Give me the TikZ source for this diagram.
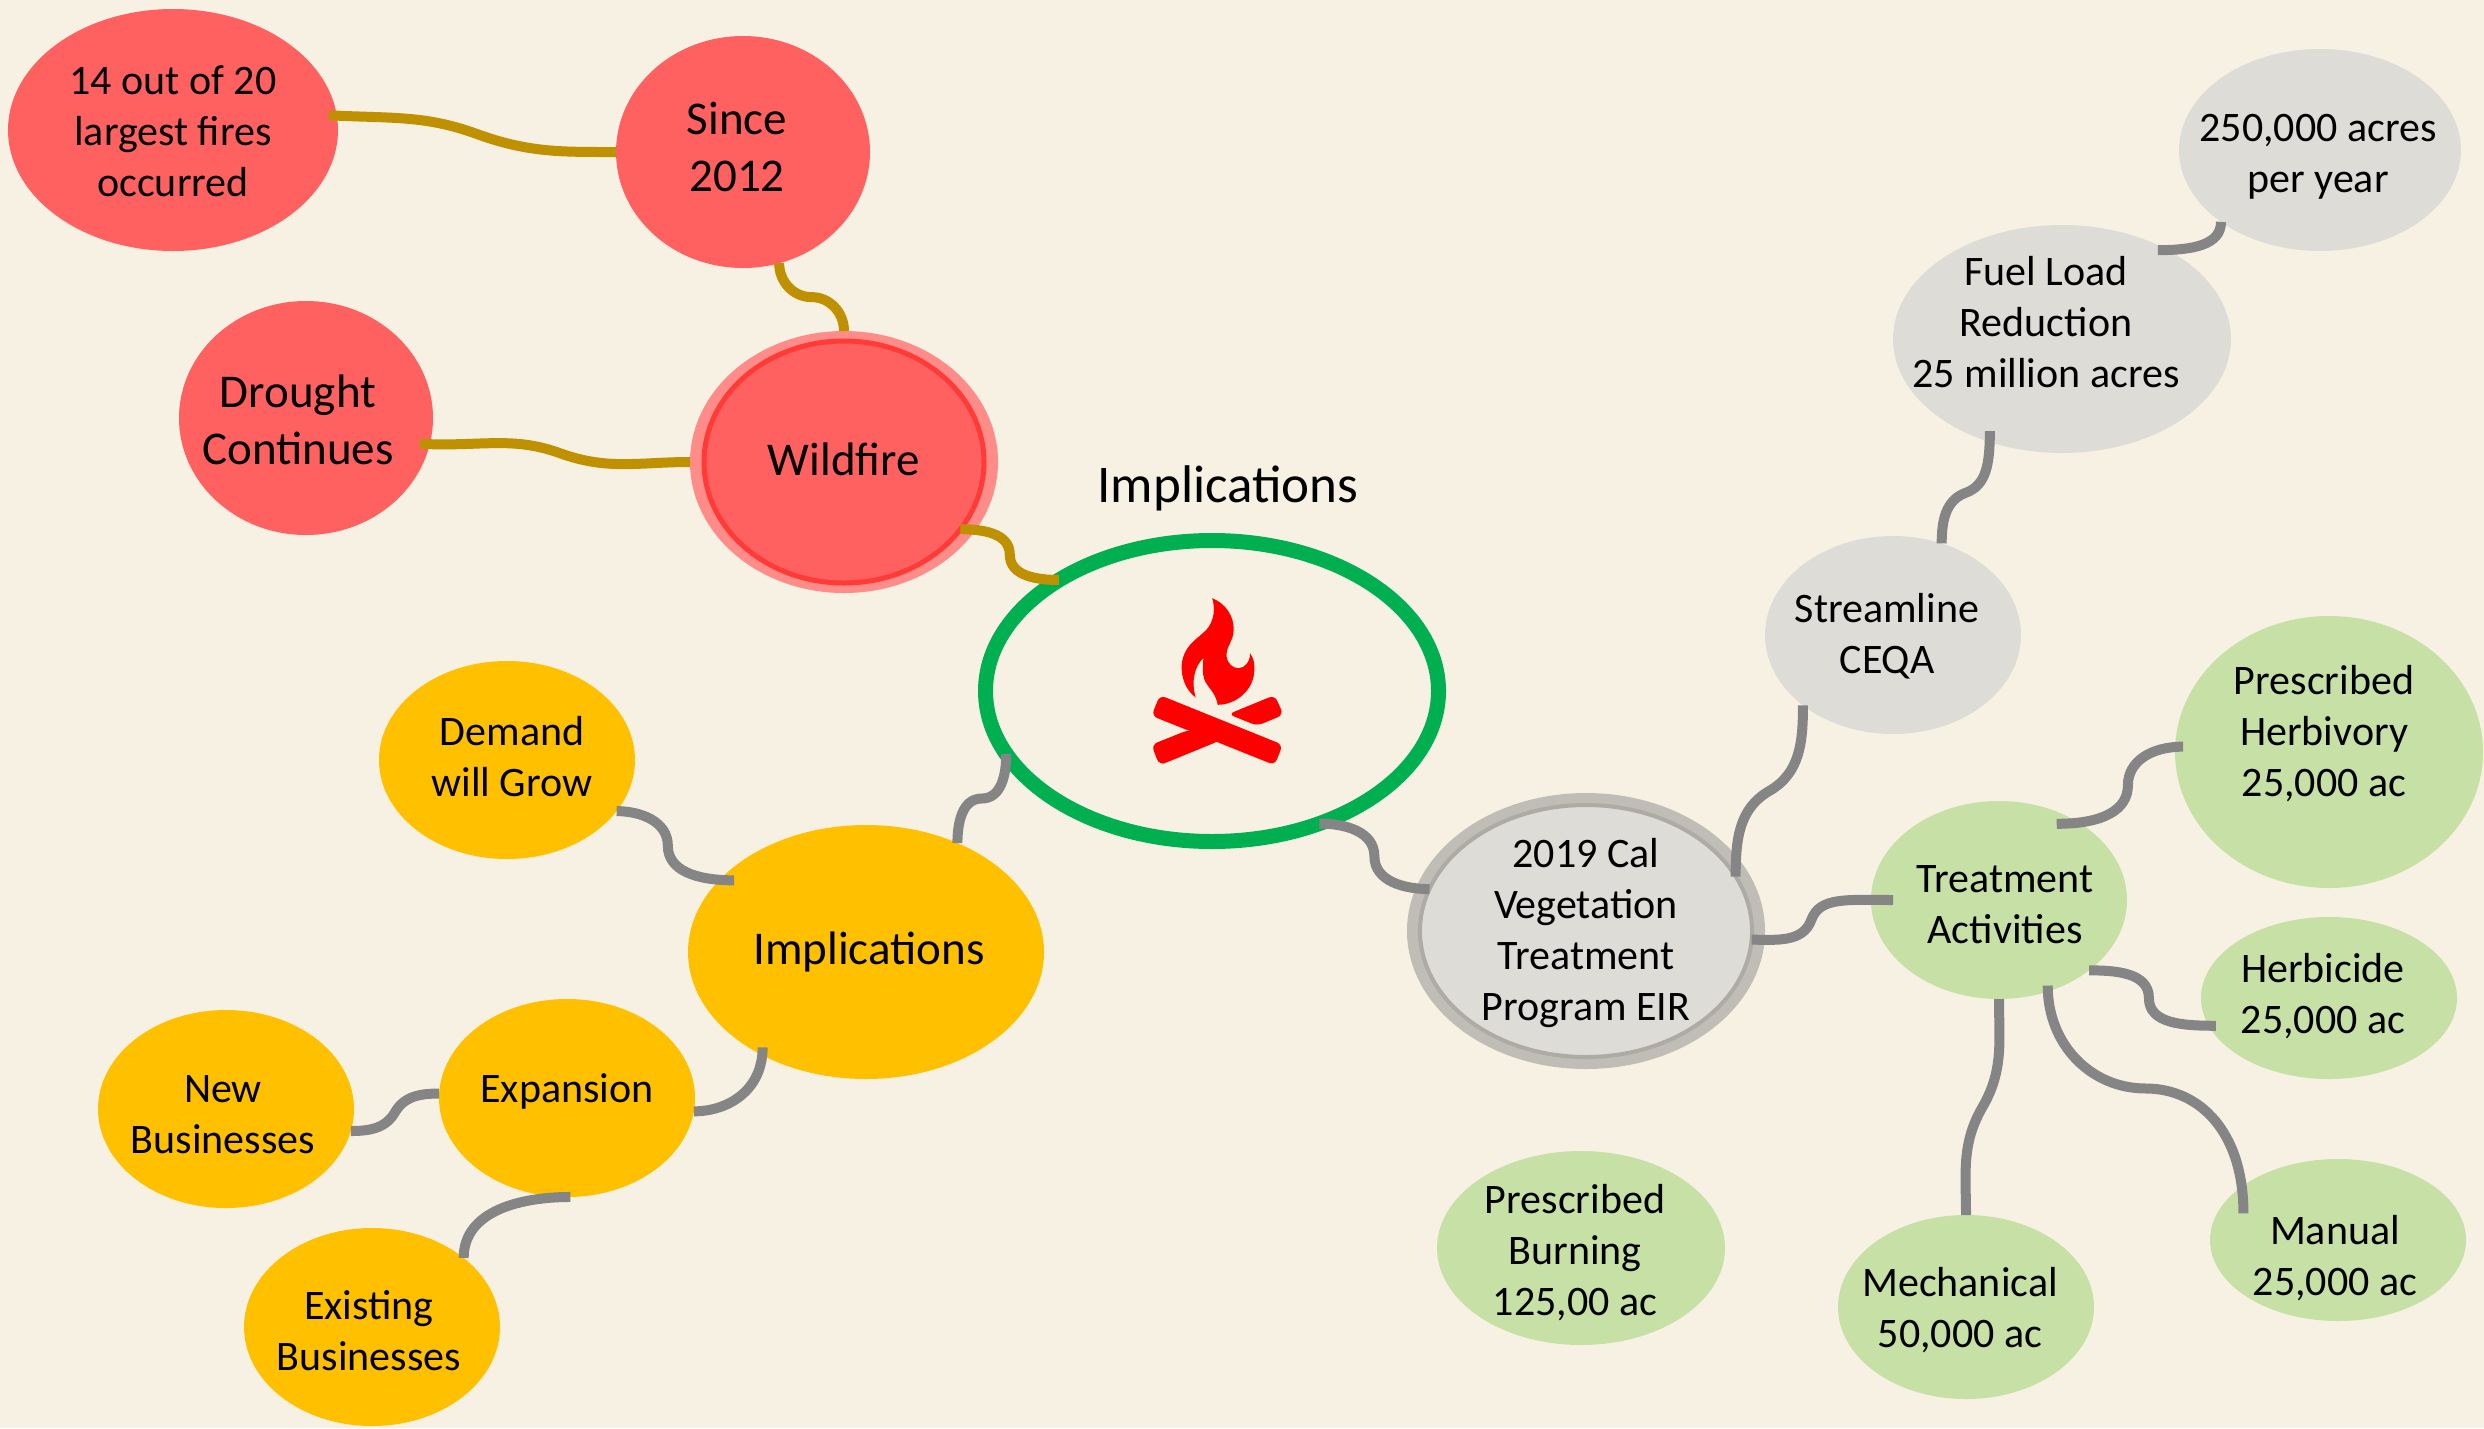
\documentclass[tikz,border=0pt]{standalone}
\usepackage{fontspec}
\setmainfont{Carlito}
\usetikzlibrary{
  arrows.meta,
  calc,
  positioning,
  shapes,
}
\definecolor{paper}{HTML}{F7F1E3}
\definecolor{redfill}{HTML}{FF6161}
\definecolor{redline}{HTML}{FF3B38}
\definecolor{redhalo}{HTML}{FF8C88}
\definecolor{yellowfill}{HTML}{FFC000}
\definecolor{greyfill}{HTML}{DEDCD6}
\definecolor{greyline}{HTML}{ADABA4}
\definecolor{greyhalo}{HTML}{BFBDB6}
\definecolor{greenfill}{HTML}{C6E0A6}
\definecolor{ringgreen}{HTML}{00B050}
\definecolor{gold}{HTML}{BF9000}
\definecolor{twiggrey}{HTML}{858585}
% text set off centre in its oval: x shift, y shift (up), lines
\newcommand{\offtext}[3]{\raisebox{\dimexpr #2pt-9pt\relax}[0pt][0pt]{\makebox[0pt]{\hspace*{#1pt}\begin{tabular}{@{}c@{}}#3\end{tabular}}}}
\tikzset{
  x = 1pt,
  y = -1pt,
  oval/.style 2 args={
    ellipse, minimum width=#1pt, minimum height=#2pt,
    inner sep=0pt, outer sep=0pt,
    font=\fontsize{42}{51}\selectfont,
  },
  big/.style={font=\fontsize{47}{57}\selectfont},
  redn/.style={fill=redfill},
  yellown/.style={fill=yellowfill},
  greyn/.style={fill=greyfill},
  greenn/.style={fill=greenfill},
  twig/.style={draw=twiggrey, line width=10pt},
  goldtwig/.style={twig, draw=gold},
}
\begin{document}
\begin{tikzpicture}
  \fill[paper] (0,0) rectangle (2484,1428);
  \useasboundingbox (0,0) rectangle (2484,1428);
  %% wildfire side
  \node[oval={308}{262}, fill=redhalo](WildH) at (844,462){};
  \node[oval={280}{242}, redn, big, draw=redline, line width=5pt](Wild) at (844,462){\offtext{0}{1}{Wildfire}};
  \node[oval={254}{232}, redn, big](Since) at (743,152){\offtext{-12}{3}{Since\\2012}};
  \node[oval={330}{242}, redn](Largest) at (173,130){\offtext{0}{-3}{14 out of 20\\largest fires\\occurred}};
  \node[oval={254}{234}, redn, big](Drought) at (306,418){\offtext{-16}{-4}{Drought\\Continues}};
  %% center
  \node[oval={453}{301}, draw=ringgreen, line width=15pt](Ring) at (1212,691){};
  \node[font=\fontsize{53}{64}\selectfont](Title) at (1228,488){Implications};
  %% implications side
  \node[oval={356}{254}, yellown, big](Impl) at (866,952){\offtext{6}{2}{Implications}};
  \node[oval={256}{198}, yellown](Demand) at (507,760){\offtext{10}{2}{Demand\\will Grow}};
  \node[oval={256}{198}, yellown](Expan) at (567,1098){\offtext{0}{8}{Expansion}};
  \node[oval={256}{198}, yellown](NewB) at (226,1109){\offtext{-6}{-6}{New\\Businesses}};
  \node[oval={256}{198}, yellown](ExistB) at (372,1327){\offtext{-6}{-5}{Existing\\Businesses}};
  %% program side
  \node[oval={358}{276}, fill=greyhalo](EIRH) at (1586,931){};
  \node[oval={332}{252}, greyn, draw=greyline, line width=4pt](EIR) at (1586,931){\offtext{0}{0}{2019 Cal\\Vegetation\\Treatment\\Program EIR}};
  \node[oval={256}{198}, greyn](Stream) at (1893,635){\offtext{-12}{0}{Streamline\\CEQA}};
  \node[oval={338}{228}, greyn](Fuel) at (2062,339){\offtext{-32}{15}{Fuel Load\\Reduction\\25 million acres}};
  \node[oval={282}{202}, greyn](Acres) at (2320,150){\offtext{-4}{-4}{250,000 acres\\per year}};
  %% treatments
  \node[oval={256}{198}, greenn](Treat) at (1999,900){\offtext{12}{-5}{Treatment\\Activities}};
  \node[oval={308}{272}, greenn](Herbv) at (2329,752){\offtext{-10}{19}{Prescribed\\Herbivory\\25,000 ac}};
  \node[oval={256}{162}, greenn](Herbc) at (2329,998){\offtext{-12}{3}{Herbicide\\25,000 ac}};
  \node[oval={256}{162}, greenn](Manual) at (2338,1240){\offtext{-6}{-17}{Manual\\25,000 ac}};
  \node[oval={256}{184}, greenn](Mech) at (1966,1307){\offtext{-12}{-2}{Mechanical\\50,000 ac}};
  \node[oval={288}{194}, greenn](Burn) at (1581,1248){\offtext{-12}{-3}{Prescribed\\Burning\\125,00 ac}};
  %% flame icon, from the zoomed crop
  \begin{scope}[shift={(950,500)}, x=.351pt, y=-.333pt]
    \fill[red] (747,295) .. controls (785,310) and (810,350) .. (808,390)
      .. controls (808,425) and (785,440) .. (788,470)
      .. controls (790,490) and (805,505) .. (822,505)
      .. controls (840,505) and (855,485) .. (855,460)
      .. controls (865,475) and (868,490) .. (867,510)
      .. controls (867,570) and (815,615) .. (763,615)
      .. controls (755,575) and (735,565) .. (725,540)
      .. controls (718,520) and (720,495) .. (722,475)
      .. controls (700,495) and (685,540) .. (700,593)
      .. controls (670,570) and (658,530) .. (660,495)
      .. controls (665,440) and (700,420) .. (720,400)
      .. controls (745,380) and (760,340) .. (747,295) -- cycle;
    \fill[red, rounded corners=6pt] (598,586) -- (948,735) -- (925,796) -- (574,648) -- cycle;
    \fill[red, rounded corners=6pt] (680,690) -- (574,735) -- (596,796) -- (622,786) -- (770,722) -- cycle;
    \fill[red, rounded corners=6pt] (793,643) -- (925,586) -- (950,645) -- (875,678) -- cycle;
  \end{scope}
  %% connectors
  \draw[goldtwig, shorten <=-8pt](Largest.5) to[out=-3,in=160] ($(Largest.5)!.5!(Since.180)$) to[out=-20,in=180] (Since.180);
  \draw[goldtwig](Since.-72) to[out=-90,in=180] ($(Since.-72)!.5!(WildH.90)$) to[out=0,in=90] (WildH.90);
  \draw[goldtwig, shorten <=-10pt](Drought.-12) to[out=-3,in=160] ($(Drought.-12)!.5!(WildH.180)$) to[out=-20,in=180] (WildH.180);
  \draw[goldtwig](Wild.-30) to[out=0,in=90] ($(Wild.-30)!.5!(Ring.144)$) to[out=-90,in=180] (Ring.144);
  %%
  \draw[twig](Ring.197) to[out=-90,in=0] ($(Ring.197)!.5!(Impl.50)$) to[out=180,in=90] (Impl.50);
  \draw[twig](Ring.-51) to[out=0,in=90] ($(Ring.-51)!.5!(EIR.165)$) to[out=-90,in=180] (EIR.165);
  %%
  \draw[twig, shorten >=-15pt](Demand.-25) to[out=0,in=90] ($(Demand.-25)!.5!(Impl.154)$) to[out=-90,in=180] (Impl.154);
  \draw[twig, shorten <=-8pt](Impl.-135) to[out=-90,in=0] (Expan.-6);
  \draw[twig](Expan.178) to[out=180,in=60] ($(Expan.178)!.5!(NewB.-10)$) to[out=-120,in=0] (NewB.-10);
  \draw[twig](Expan.-88) to[out=180,in=90] (ExistB.37);
  %%
  \draw[twig](EIR.20) to[out=90,in=-150] ($(EIR.20)!.5!(Stream.218)$) to[out=30,in=-90] (Stream.218);
  \draw[twig, shorten >=-11pt](Stream.62) to[out=90,in=-160] ($(Stream.62)!.5!(Fuel.-125)$) to[out=20,in=-90] (Fuel.-125);
  \draw[twig, shorten <=-10pt](Fuel.40) to[out=0,in=-90] (Acres.-144);
  \draw[twig, shorten >=-22pt](EIR.-3) to[out=0,in=-110] ($(EIR.-3)!.5!(Treat.180)$) to[out=70,in=180] (Treat.180);
  %%
  \draw[twig, shorten <=-24pt, shorten >=-8pt](Treat.43) to[out=0,in=-90] ($(Treat.43)!.5!(Herbv.178)$) to[out=90,in=180] (Herbv.178);
  \draw[twig, shorten >=-7pt](Treat.-38) to[out=0,in=90] ($(Treat.-38)!.5!(Herbc.-167)$) to[out=-90,in=180] (Herbc.-167);
  \draw[twig](Treat.-90) to[out=-90,in=60] ($(Treat.-90)!.5!(Mech.90)$) to[out=-120,in=90] (Mech.90);
  \draw[twig, shorten <=-6pt, shorten >=-28pt](Treat.-62) to[out=-90,in=180] ($(Treat.-62)!.5!(Manual.150)$) to[out=0,in=90] (Manual.150);
\end{tikzpicture}
\end{document}
